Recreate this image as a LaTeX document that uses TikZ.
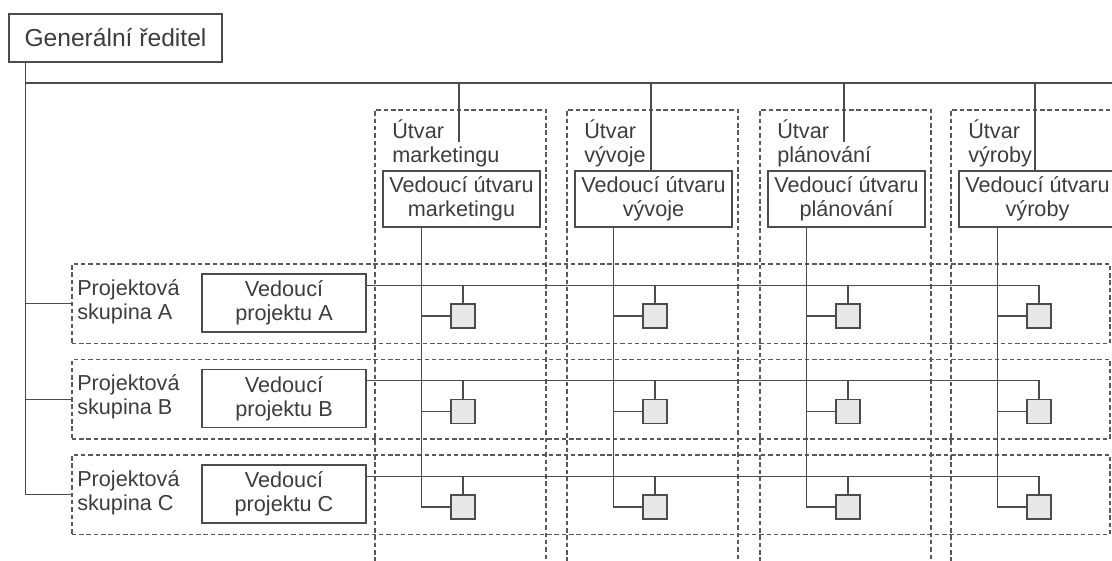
\documentclass[tikz,border=0pt]{standalone}
\usepackage{fontspec}
\setmainfont{Liberation Sans}
\usetikzlibrary{calc}
\colorlet{ink}{black!70}
\colorlet{inkd}{black!65}
\colorlet{cellgray}{black!9}

\begin{document}
\begin{tikzpicture}[x=0.025cm,y=-0.025cm,
  every node/.style={text=black!76,font=\fontsize{15.4}{17.2}\selectfont},
  box/.style={draw=ink,line width=1pt,align=center,inner sep=0pt},
  grp/.style={draw=inkd,line width=0.95pt,dash pattern=on 3.2pt off 2pt,inner sep=0pt},
  txt/.style={align=left,inner sep=0pt,anchor=north west},
  cell/.style={draw=ink,fill=cellgray,line width=1pt,minimum size=0.6cm,inner sep=0pt},
  ln/.style={draw=ink,line width=0.95pt}]
\useasboundingbox (0,0) rectangle (1112,560);
\clip (0,0) rectangle (1112,560);
\node[box,minimum width=5.325cm,minimum height=1.2cm,font=\fontsize{17.5}{20}\selectfont] (gr) at (115.5,38) {Generální ředitel};
\foreach \c/\x/\e/\n in {mkt/422/142/marketingu,vyv/614/171/vývoje,pla/807/142/plánování,vyr/998/171/výroby}{
  \node[grp,minimum width=4.275cm,minimum height=12.25cm] (u\c) at (\x+38.5,355) {};
  \node[txt] (n\c) at (\x-30,119) {Útvar\\\n};
  \node[box,minimum width=3.925cm,minimum height=1.4cm] (vu\c) at (\x+39.5,199) {Vedoucí útvaru\\\n};
  \coordinate (t\c) at (\x+37,83);
  \coordinate (d\c) at (\x+37,\e);
  \coordinate (v\c) at ($(vu\c.south west)+(39,0)$);
}
\foreach \r/\y in {A/264,B/359.5,C/455}{
  \node[grp,minimum width=25.95cm,minimum height=1.9875cm] (pg\r) at (591,\y+39.75) {};
  \node[txt] (np\r) at (77,\y+15) {Projektová\\skupina \r};
  \node[box,minimum width=4.1cm,minimum height=1.45cm] (vp\r) at (284,\y+39) {Vedoucí\\projektu \r};
  \coordinate (h\r) at ($(vp\r.north east)+(0,12)$);
  \foreach \c/\x in {mkt/422,vyv/614,pla/807,vyr/998}
    \node[cell] (sq\r\c) at (\x+41,\y+52) {};
}
\coordinate (g) at ($(gr.south west)+(17,0)$);
\coordinate (topR) at (1112,83);
\draw[ln] (g) |- (pgC.west);
\draw[ln] (pgA.west) -- (pgA.west -| g);
\draw[ln] (pgB.west) -- (pgB.west -| g);
\draw[ln] (g |- topR) -- (topR);
\foreach \c in {mkt,vyv,pla,vyr}{
  \draw[ln] (t\c) -- (d\c);
  \draw[ln] (v\c) |- (sqC\c.west);
  \draw[ln] (sqA\c.west) -- (sqA\c.west -| v\c);
  \draw[ln] (sqB\c.west) -- (sqB\c.west -| v\c);
}
\foreach \r in {A,B,C}{
  \draw[ln] (h\r) -| (sq\r vyr.north);
  \foreach \c in {mkt,vyv,pla}
    \draw[ln] (sq\r\c.north) -- (sq\r\c.north |- h\r);
}
\end{tikzpicture}
\end{document}
